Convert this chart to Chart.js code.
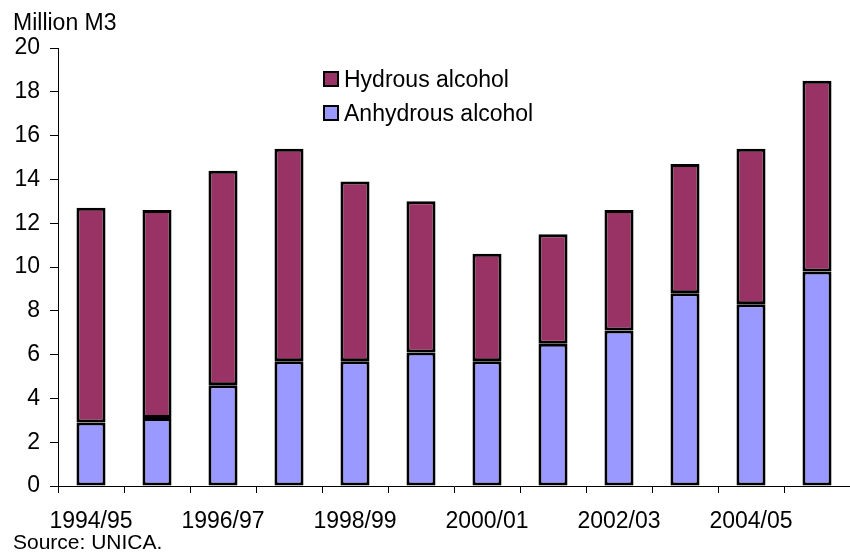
<!DOCTYPE html>
<html>
<head>
<meta charset="utf-8">
<script src="https://cdn.jsdelivr.net/npm/chart.js@4.4.0/dist/chart.umd.min.js"></script>
<style>
  html, body { margin: 0; padding: 0; background: #fff; }
  #wrap { position: relative; width: 850px; height: 554px; font-family: "Liberation Sans", Arial, sans-serif; color: #000; }
  #c { position: absolute; left: 0; top: 0; }
  .txt { position: absolute; white-space: nowrap; line-height: 1; }
  #unit { left: 13px; top: 11px; font-size: 23px; }
  #source { left: 13px; top: 531px; font-size: 21px; }
  #legend { position: absolute; left: 323px; top: 62px; font-size: 23px; }
  .row { display: flex; align-items: center; height: 34px; }
  .box { width: 12px; height: 12px; border: 2px solid #000; margin-right: 5px; }
</style>
</head>
<body>
<div id="wrap">
  <canvas id="c" width="850" height="554"></canvas>
  <div class="txt" id="unit">Million M3</div>
  <div class="txt" id="source">Source: UNICA.</div>
  <div id="legend"></div>
</div>
<script>
// ===== Data =====
const seasons = ["1994/95", "1995/96", "1996/97", "1997/98", "1998/99", "1999/00",
                 "2000/01", "2001/02", "2002/03", "2003/04", "2004/05", "2005/06"];
const anhydrous = [2.9, 3.1, 4.6, 5.7, 5.7, 6.1, 5.7, 6.5, 7.1, 8.8, 8.3, 9.8];
const hydrous = [9.8, 9.5, 9.8, 9.7, 8.2, 6.9, 4.9, 5.0, 5.5, 5.9, 7.1, 8.7];
const yTicks = [0, 2, 4, 6, 8, 10, 12, 14, 16, 18, 20];

const HYD = "#993366";
const ANH = "#9999FF";

// ===== Legend =====
const legendEl = document.getElementById("legend");
[["Hydrous alcohol", HYD], ["Anhydrous alcohol", ANH]].forEach(([name, col]) => {
  const row = document.createElement("div");
  row.className = "row";
  row.innerHTML = `<span class="box" style="background:${col}"></span><span>${name}</span>`;
  legendEl.appendChild(row);
});

// ===== Chart =====
const font = { family: "'Liberation Sans', Arial, sans-serif", size: 23 };

const barStyle = {
  borderColor: "#000",
  borderWidth: 3,
  borderSkipped: false,
  barPercentage: 0.44,
  categoryPercentage: 1
};

new Chart(document.getElementById("c"), {
  type: "bar",
  data: {
    labels: seasons,
    datasets: [
      Object.assign({ label: "Anhydrous alcohol", data: anhydrous, backgroundColor: ANH }, barStyle),
      Object.assign({ label: "Hydrous alcohol", data: hydrous, backgroundColor: HYD }, barStyle)
    ]
  },
  options: {
    responsive: false,
    animation: false,
    layout: { padding: { top: 48, right: 0, bottom: 0, left: 0 } },
    plugins: { legend: { display: false }, tooltip: { enabled: false } },
    scales: {
      x: {
        stacked: true,
        afterFit: s => { s.height = 68; },
        border: { color: "#000", width: 1 },
        grid: { offset: true, drawOnChartArea: false, drawTicks: true, tickLength: 7, color: "#000" },
        ticks: {
          autoSkip: false,
          maxRotation: 0,
          padding: 15,
          color: "#000",
          font,
          callback: (v, i) => (i % 2 === 0 ? seasons[i] : "")
        }
      },
      y: {
        stacked: true,
        min: 0,
        max: 20,
        afterFit: s => { s.width = 58; },
        afterBuildTicks: s => { s.ticks = yTicks.map(v => ({ value: v })); },
        border: { color: "#000", width: 1 },
        grid: { drawOnChartArea: false, drawTicks: true, tickLength: 8, color: "#000" },
        ticks: { padding: 10, color: "#000", font }
      }
    }
  }
});
</script>
</body>
</html>
